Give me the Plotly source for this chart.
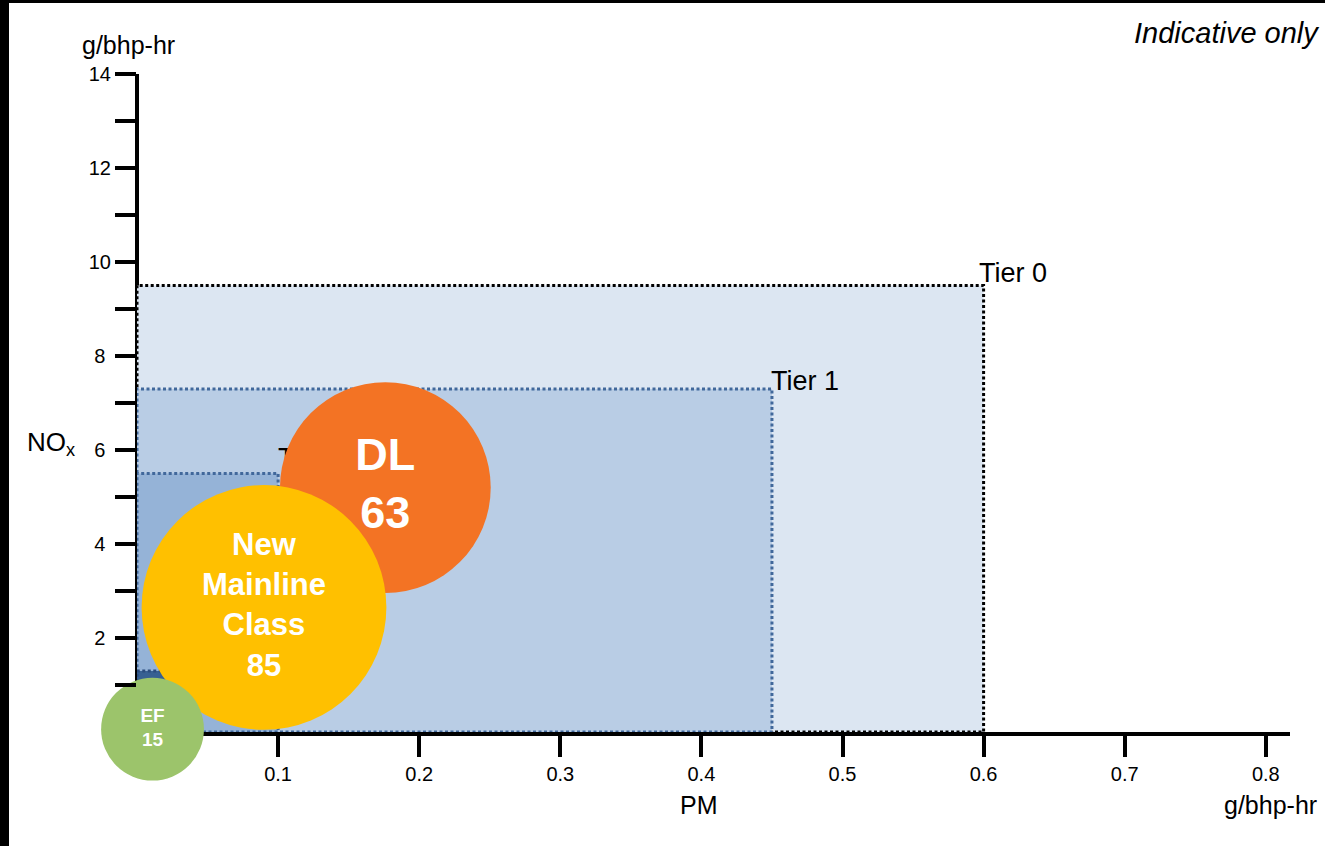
import plotly.graph_objects as go

# Emission tier limits (PM on x, NOx on y), g/bhp-hr
tier_names = ["Tier 0", "Tier 1", "Tier 2", "Tier 4"]
tier_pm = [0.6, 0.45, 0.1, 0.03]
tier_nox = [9.5, 7.3, 5.5, 1.3]

# Locomotive classes: bubble area follows the fleet count
loco_names = ["DL", "New Mainline Class", "EF"]
loco_pm = [0.176, 0.09, 0.011]
loco_nox = [5.2, 2.65, 0.06]
loco_count = [63, 85, 15]

x_ticks = [0.1, 0.2, 0.3, 0.4, 0.5, 0.6, 0.7, 0.8]
x_tick_labels = ["0.1", "0.2", "0.3", "0.4", "0.5", "0.6", "0.7", "0.8"]
y_ticks = list(range(1, 15))
y_tick_labels = ["", "2", "", "4", "", "6", "", "8", "", "10", "", "12", "", "14"]

FONT = "Arial, Liberation Sans, sans-serif"
tier_fill = ["#dce6f2", "#b9cde5", "#95b3d7", "#376092"]
tier_line = ["#000000", "#41689b", "#41689b", "#2b4c7e"]
# caption placement per tier: (x shift px, y shift px) or None
tier_caption = [(-7, 13), (-3, 8), "behind", None]
loco_colors = ["#f37324", "#ffc000", "#9cc46b"]
label_sizes = [45, 31, 19]

# plot area geometry in pixels
L, T, W, H = 137, 74, 1153, 658
X_PER_PX = 1 / 1411.0


def px_x(px):
    return (px - L) / W


def px_y(py):
    return (T + H - py) / H


fig = go.Figure()

# nested tier boxes, largest first
for name, pm, nox, fill, line in zip(tier_names, tier_pm, tier_nox, tier_fill, tier_line):
    fig.add_trace(go.Scatter(
        x=[0, pm, pm, 0, 0], y=[0, 0, nox, nox, 0],
        mode="lines", fill="toself", fillcolor=fill,
        line=dict(color=line, width=3, dash="3px,2.5px"),
        hoverinfo="skip", showlegend=False, name=name,
    ))

# captions that sit underneath the bubbles
hidden = [i for i, c in enumerate(tier_caption) if c == "behind"]
fig.add_trace(go.Scatter(
    x=[tier_pm[i] for i in hidden], y=[tier_nox[i] for i in hidden],
    text=[tier_names[i] for i in hidden],
    mode="text", textposition="top right",
    textfont=dict(family=FONT, size=27, color="black"),
    hoverinfo="skip", showlegend=False, cliponaxis=False,
))

# bubbles (area proportional to count)
px_per_sqrt = 26.55
fig.add_trace(go.Scatter(
    x=loco_pm, y=loco_nox, mode="markers",
    marker=dict(size=loco_count, sizemode="area", sizeref=2 / px_per_sqrt ** 2,
                color=loco_colors, opacity=1, line=dict(width=0)),
    hoverinfo="skip", showlegend=False, cliponaxis=False,
))
fig.add_trace(go.Scatter(
    x=loco_pm, y=loco_nox, mode="text",
    text=["<b>" + n.replace(" ", "<br>") + "<br>" + str(c) + "</b>"
          for n, c in zip(loco_names, loco_count)],
    textposition="middle center",
    textfont=dict(family=FONT, size=label_sizes, color="white"),
    hoverinfo="skip", showlegend=False, cliponaxis=False,
))

# pad single-digit labels so the column reads centred
y_text = [t + "\u00a0" if len(t) == 1 else t for t in y_tick_labels]

annotations = [
    dict(text="g/bhp-hr", xref="paper", yref="paper", x=px_x(80), y=px_y(45),
         xanchor="left", yanchor="middle", showarrow=False,
         font=dict(family=FONT, size=25)),
    dict(text="NO<sub>x</sub>", xref="paper", yref="paper", x=px_x(25), y=px_y(444),
         xanchor="left", yanchor="middle", showarrow=False,
         font=dict(family=FONT, size=26)),
    dict(text="PM", xref="paper", yref="paper", x=px_x(699), y=px_y(805),
         xanchor="center", yanchor="middle", showarrow=False,
         font=dict(family=FONT, size=25)),
    dict(text="g/bhp-hr", xref="paper", yref="paper", x=px_x(1270), y=px_y(805),
         xanchor="center", yanchor="middle", showarrow=False,
         font=dict(family=FONT, size=25)),
    dict(text="<i>Indicative only</i>", xref="paper", yref="paper", x=px_x(1321), y=px_y(33),
         xanchor="right", yanchor="middle", showarrow=False,
         font=dict(family=FONT, size=29)),
]
for name, pm, nox, cap in zip(tier_names, tier_pm, tier_nox, tier_caption):
    if isinstance(cap, tuple):
        annotations.append(dict(
            text=name, x=pm, y=nox, xref="x", yref="y",
            xanchor="left", yanchor="middle", xshift=cap[0], yshift=cap[1],
            showarrow=False, font=dict(family=FONT, size=27),
        ))

fig.update_layout(
    width=1325, height=846,
    margin=dict(l=L, r=1325 - L - W, t=T, b=846 - T - H, pad=0),
    paper_bgcolor="white", plot_bgcolor="white",
    font=dict(family=FONT, color="black"),
    xaxis=dict(
        range=[0, W * X_PER_PX], showgrid=False, zeroline=False,
        showline=True, linecolor="black", linewidth=4,
        tickmode="array", tickvals=x_ticks, ticktext=x_tick_labels,
        ticks="outside", ticklen=21, tickwidth=4, tickcolor="black",
        tickfont=dict(family=FONT, size=20, color="black"),
        fixedrange=True, layer="below traces",
    ),
    yaxis=dict(
        range=[0, 14], showgrid=False, zeroline=False, showline=False,
        tickmode="array", tickvals=y_ticks, ticktext=y_text,
        ticks="outside", ticklen=21, tickwidth=4, tickcolor="black",
        tickfont=dict(family=FONT, size=20, color="black"),
        fixedrange=True,
    ),
    shapes=[
        # y axis line, sitting beneath the tier boxes
        dict(type="line", xref="paper", yref="y", x0=0, x1=0, y0=0, y1=14,
             line=dict(color="black", width=4), layer="below"),
        # frame edges on the left and top of the page
        dict(type="rect", xref="paper", yref="paper",
             x0=px_x(0), x1=px_x(9), y0=px_y(846), y1=px_y(0),
             fillcolor="black", line=dict(width=0), layer="above"),
        dict(type="rect", xref="paper", yref="paper",
             x0=px_x(0), x1=px_x(1325), y0=px_y(3), y1=px_y(0),
             fillcolor="black", line=dict(width=0), layer="above"),
    ],
    annotations=annotations,
)

fig.write_html("out.html")
